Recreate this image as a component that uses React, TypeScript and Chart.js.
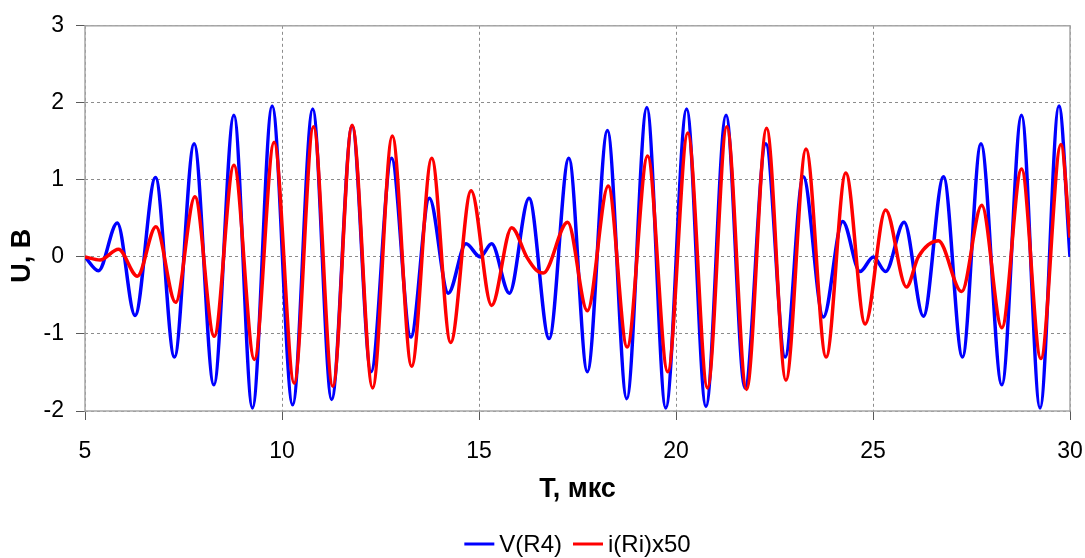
import { useEffect, useRef } from "react";
import { Chart, registerables } from "chart.js";

Chart.register(...registerables);

// V(R4): turning points of the voltage waveform, time in µs, value in V
const timeV = [
  5.0, 5.34, 5.82, 6.27, 6.79, 7.27, 7.77, 8.27, 8.78, 9.25, 9.75, 10.27, 10.78, 11.26, 11.78,
  12.26, 12.78, 13.27, 13.74, 14.22, 14.67, 15.03, 15.32, 15.77, 16.27, 16.78, 17.28, 17.75,
  18.26, 18.75, 19.26, 19.74, 20.27, 20.76, 21.27, 21.75, 22.28, 22.77, 23.23, 23.74, 24.23,
  24.67, 25.01, 25.32, 25.79, 26.28, 26.79, 27.27, 27.74, 28.27, 28.77, 29.24, 29.72, 30.0,
];
const valueV = [
  0.0, -0.18, 0.44, -0.76, 1.03, -1.3, 1.47, -1.66, 1.84, -1.96, 1.96, -1.92, 1.92, -1.85, 1.7,
  -1.49, 1.28, -1.04, 0.76, -0.47, 0.17, 0.0, 0.17, -0.47, 0.76, -1.06, 1.28, -1.49,
  1.64, -1.84, 1.94, -1.96, 1.92, -1.94, 1.84, -1.7, 1.47, -1.3, 1.04, -0.78, 0.46,
  -0.19, 0.0, -0.19, 0.45, -0.77, 1.04, -1.3, 1.47, -1.66, 1.84, -1.96, 1.96, 0.0,
];

// i(Ri)x50: scaled current waveform
const timeI = [
  5.0, 5.38, 5.85, 6.33, 6.8, 7.3, 7.79, 8.28, 8.78, 9.3, 9.8, 10.31, 10.8, 11.29, 11.78,
  12.3, 12.8, 13.29, 13.8, 14.28, 14.8, 15.32, 15.83, 16.21, 16.45, 16.63, 17.25, 17.75,
  18.28, 18.76, 19.28, 19.79, 20.3, 20.8, 21.29, 21.79, 22.3, 22.79, 23.3, 23.81, 24.31,
  24.8, 25.32, 25.85, 26.15, 26.66, 27.25, 27.76, 28.27, 28.77, 29.26, 29.77, 30.0,
];
const valueI = [
  0.0, -0.04, 0.1, -0.25, 0.39, -0.59, 0.78, -1.03, 1.19, -1.33, 1.49, -1.64, 1.69, -1.68, 1.71,
  -1.7, 1.57, -1.42, 1.28, -1.11, 0.86, -0.63, 0.38, 0.0, -0.17, -0.21, 0.45, -0.7,
  0.92, -1.17, 1.31, -1.49, 1.61, -1.7, 1.69, -1.72, 1.67, -1.6, 1.4, -1.3, 1.09,
  -0.87, 0.61, -0.39, 0.0, 0.21, -0.45, 0.67, -0.92, 1.14, -1.32, 1.46, 0.25,
];

const seriesNames = ["V(R4)", "i(Ri)x50"];
const seriesColors = ["#0000ff", "#ff0000"];

const xRange = [5, 30];
const yRange = [-2, 3];

const xTitle = "T, мкс";
const yTitle = "U, В";

const FONT = "'Liberation Sans', Arial, Helvetica, sans-serif";

const toPoints = (t: number[], v: number[]) => t.map((x, i) => ({ x, y: v[i] }));

// solid frame around the plotting area
const plotFrame = {
  id: "plotFrame",
  beforeDatasetsDraw(chart: any) {
    const { ctx, chartArea } = chart;
    const { left, top, right, bottom } = chartArea;
    ctx.save();
    ctx.strokeStyle = "#a6a6a6";
    ctx.lineWidth = 1.5;
    ctx.strokeRect(left, top, right - left, bottom - top);
    ctx.restore();
  },
};

// rotated value-axis caption
const valueAxisCaption = {
  id: "valueAxisCaption",
  afterDraw(chart: any) {
    const { ctx, chartArea } = chart;
    ctx.save();
    ctx.translate(23, chartArea.top + 230);
    ctx.rotate(-Math.PI / 2);
    ctx.font = `bold 27px ${FONT}`;
    ctx.fillStyle = "#000";
    ctx.textAlign = "center";
    ctx.textBaseline = "middle";
    ctx.fillText(yTitle, 0, 0);
    ctx.restore();
  },
};

// line-sample legend centred under the plot
const lineLegend = {
  id: "lineLegend",
  afterDraw(chart: any) {
    const { ctx, chartArea } = chart;
    const sample = 30;
    const gapText = 5;
    const gapItem = 11;
    const y = 544;
    ctx.save();
    ctx.font = `24px ${FONT}`;
    const items = chart.data.datasets.map((d: any) => ({
      text: d.label as string,
      color: d.borderColor as string,
      w: ctx.measureText(d.label).width,
    }));
    const total =
      items.reduce((s: number, it: any) => s + sample + gapText + it.w, 0) +
      gapItem * (items.length - 1);
    let x = (chartArea.left + chartArea.right) / 2 - total / 2;
    ctx.textBaseline = "middle";
    ctx.textAlign = "left";
    items.forEach((it: any) => {
      ctx.strokeStyle = it.color;
      ctx.lineWidth = 3;
      ctx.beginPath();
      ctx.moveTo(x, y);
      ctx.lineTo(x + sample, y);
      ctx.stroke();
      x += sample + gapText;
      ctx.fillStyle = "#000";
      ctx.fillText(it.text, x, y + 1);
      x += it.w + gapItem;
    });
    ctx.restore();
  },
};

export default function App() {
  const canvasRef = useRef<HTMLCanvasElement | null>(null);

  useEffect(() => {
    document.body.style.margin = "0";
    const canvas = canvasRef.current;
    if (!canvas) return;

    const gridCommon = {
      color: "#8c8c8c",
      lineWidth: 1,
      tickLength: 9,
      tickColor: "#595959",
      tickWidth: 1,
      tickBorderDash: [],
    };

    const chart = new Chart(canvas, {
      type: "line",
      data: {
        datasets: [
          {
            label: seriesNames[0],
            data: toPoints(timeV, valueV),
            borderColor: seriesColors[0],
            backgroundColor: seriesColors[0],
            borderWidth: 3.5,
            pointRadius: 0,
            cubicInterpolationMode: "monotone",
            order: 2,
          },
          {
            label: seriesNames[1],
            data: toPoints(timeI, valueI),
            borderColor: seriesColors[1],
            backgroundColor: seriesColors[1],
            borderWidth: 3.5,
            pointRadius: 0,
            cubicInterpolationMode: "monotone",
            order: 1,
          },
        ],
      },
      options: {
        responsive: false,
        animation: false,
        devicePixelRatio: 1,
        layout: { padding: { top: 23, right: 15, left: 0, bottom: 0 } },
        plugins: {
          legend: { display: false },
          tooltip: { enabled: false },
        },
        scales: {
          x: {
            type: "linear",
            min: xRange[0],
            max: xRange[1],
            ticks: {
              stepSize: 5,
              color: "#000",
              font: { family: FONT, size: 23 },
              padding: 18,
              maxRotation: 0,
            },
            grid: gridCommon,
            border: { display: false, dash: [3, 3] },
            title: {
              display: true,
              text: xTitle,
              color: "#000",
              font: { family: FONT, size: 27, weight: "bold" },
              padding: { top: 0, bottom: 52 },
            },
            afterFit(scale: any) {
              scale.height = 147;
              scale.paddingLeft = 0;
              scale.paddingRight = 0;
            },
          },
          y: {
            min: yRange[0],
            max: yRange[1],
            ticks: {
              stepSize: 1,
              color: "#000",
              font: { family: FONT, size: 23 },
              padding: 12,
            },
            grid: gridCommon,
            border: { display: false, dash: [3, 3] },
            afterFit(scale: any) {
              scale.width = 85;
            },
          },
        },
      },
      plugins: [plotFrame, valueAxisCaption, lineLegend],
    } as any);

    return () => chart.destroy();
  }, []);

  return (
    <div style={{ width: 1085, height: 558 }}>
      <canvas ref={canvasRef} width={1085} height={558} />
    </div>
  );
}
